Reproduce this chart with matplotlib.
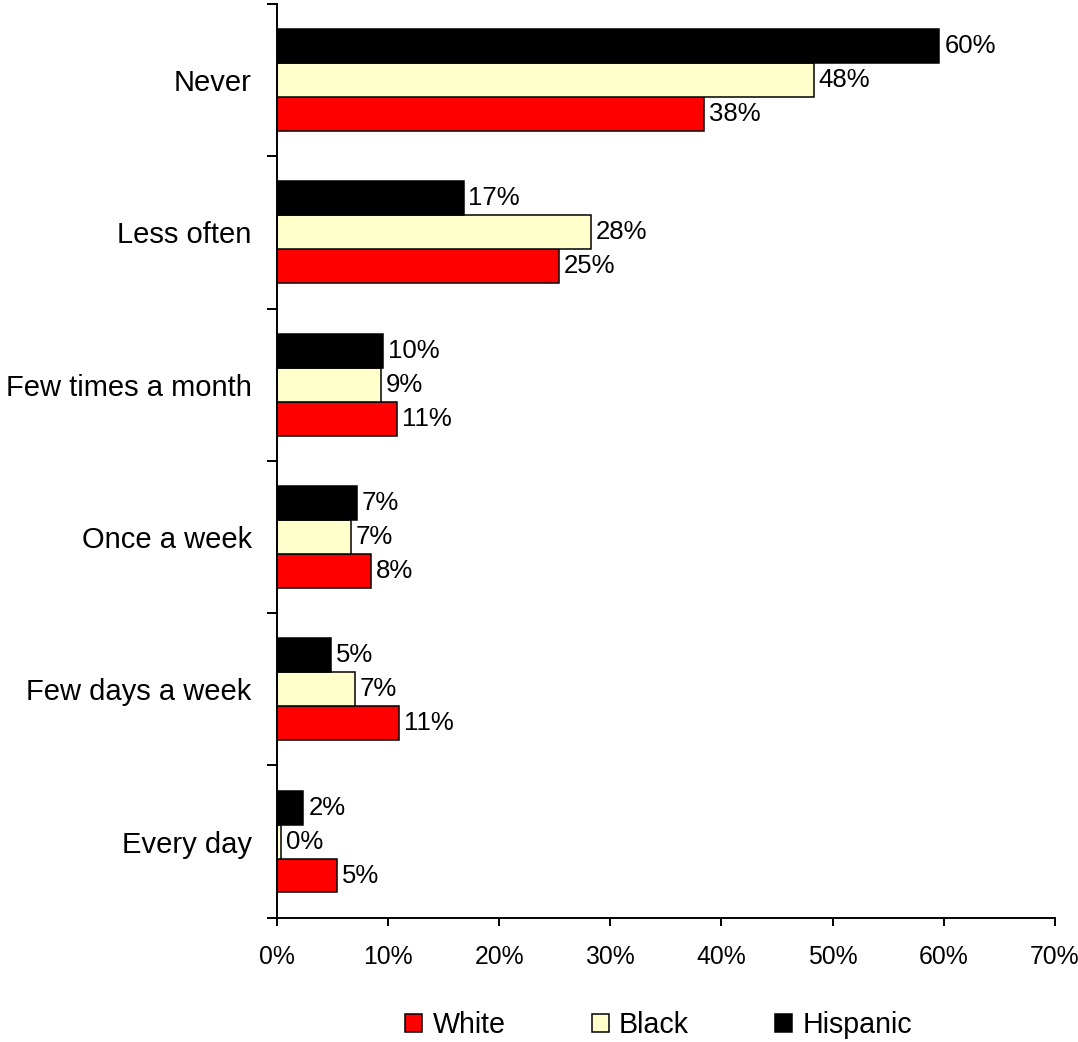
import numpy as np
import matplotlib.pyplot as plt
from matplotlib.ticker import FixedLocator, PercentFormatter

plt.rcParams['font.family'] = ['Liberation Sans', 'DejaVu Sans']

# frequency categories, bottom to top
categories = ['Every day', 'Few days a week', 'Once a week',
              'Few times a month', 'Less often', 'Never']
white = [5.4, 11.0, 8.5, 10.8, 25.4, 38.4]
black = [0.4, 7.0, 6.7, 9.4, 28.3, 48.3]
hispanic = [2.4, 4.9, 7.2, 9.6, 16.8, 59.6]

fig = plt.figure(figsize=(10.78, 10.42), dpi=100)
ax = fig.add_axes([0.2567, 0.1193, 0.9787 - 0.2567, 0.9962 - 0.1193])

y = np.arange(len(categories))
h = 0.223
series = [(white, '#ff0000', 'White', -h),
          (black, '#ffffcc', 'Black', 0.0),
          (hispanic, '#000000', 'Hispanic', h)]
for vals, col, name, off in series:
    bars = ax.barh(y + off, vals, height=h, color=col, edgecolor='black',
                   linewidth=1.1, label=name)
    ax.bar_label(bars, labels=[f'{round(v)}%' for v in vals], padding=3.5,
                 fontsize=18.5, color='black')

ax.set_xlim(0, 70)
ax.set_ylim(-0.5, 5.5)
ax.xaxis.set_major_locator(FixedLocator(range(0, 71, 10)))
ax.xaxis.set_major_formatter(PercentFormatter(decimals=0))
ax.set_yticks(y)
ax.set_yticklabels(categories)
ax.yaxis.set_minor_locator(FixedLocator(np.arange(-0.5, 6.0, 1.0)))

for s in ['top', 'right']:
    ax.spines[s].set_visible(False)
for s in ['left', 'bottom']:
    ax.spines[s].set_linewidth(1.4)

ax.tick_params(axis='y', which='major', length=0, pad=18, labelsize=21)
ax.tick_params(axis='y', which='minor', length=7, width=1.4, direction='out')
ax.tick_params(axis='x', length=5.5, width=1.4, pad=14, labelsize=17.8)

handles, labels = ax.get_legend_handles_labels()
fig.legend(handles, labels, loc='center', bbox_to_anchor=(0.611, 0.0163),
           ncol=3, frameon=False, fontsize=20.6, handlelength=0.6,
           handleheight=0.6, handletextpad=0.36, columnspacing=3.0)

fig.savefig('out.png', dpi=100)
